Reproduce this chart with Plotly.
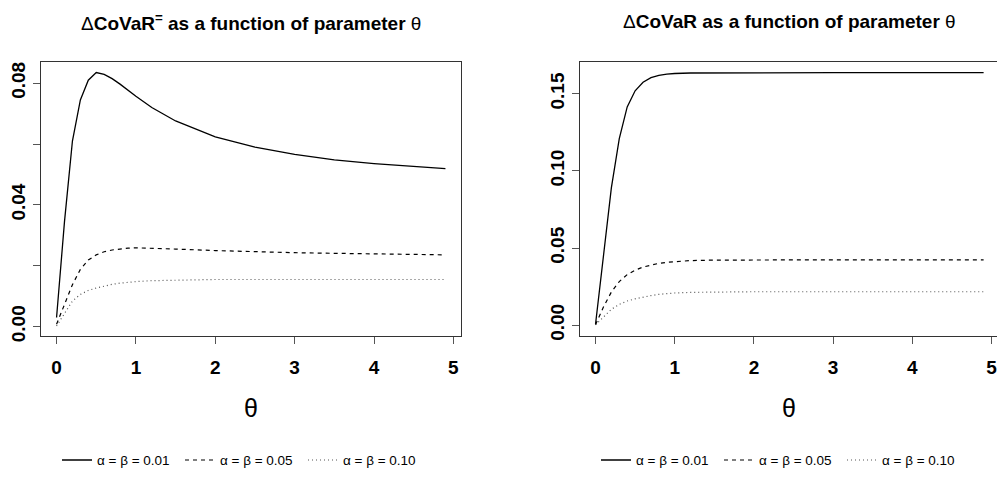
import plotly.graph_objects as go

# ---- data ----
theta = [0.0, 0.1, 0.2, 0.3, 0.4, 0.5, 0.6, 0.7, 0.8, 0.9, 1.0, 1.2, 1.5,
         2.0, 2.5, 3.0, 3.5, 4.0, 4.5, 4.9]

left_001 = [0.0030, 0.0345, 0.0610, 0.0745, 0.0810, 0.0835, 0.0829, 0.0815, 0.0797, 0.0776,
            0.0757, 0.0720, 0.0676, 0.0624, 0.0590, 0.0566, 0.0548, 0.0536, 0.0526, 0.0519]
left_005 = [0.0008, 0.0075, 0.0138, 0.0188, 0.0219, 0.0236, 0.0246, 0.0252, 0.0256, 0.0258,
            0.0259, 0.0258, 0.0255, 0.0250, 0.0246, 0.0243, 0.0241, 0.0239, 0.0237, 0.0236]
left_010 = [0.0002, 0.0045, 0.0084, 0.0106, 0.0119, 0.0127, 0.0134, 0.0139, 0.0143, 0.0146,
            0.0148, 0.0151, 0.0153, 0.0155, 0.0155, 0.0155, 0.0155, 0.0155, 0.0155, 0.0155]

right_001 = [0.0006, 0.0470, 0.0890, 0.1210, 0.1415, 0.1520, 0.1575, 0.1605, 0.1620, 0.1628,
             0.1632, 0.1635, 0.1636, 0.1637, 0.1637, 0.1637, 0.1637, 0.1637, 0.1637, 0.1637]
right_005 = [0.0003, 0.0118, 0.0215, 0.0283, 0.0328, 0.0357, 0.0377, 0.0391, 0.0401, 0.0408,
             0.0413, 0.0419, 0.0422, 0.0424, 0.0424, 0.0424, 0.0424, 0.0424, 0.0424, 0.0424]
right_010 = [0.0002, 0.0055, 0.0103, 0.0135, 0.0157, 0.0171, 0.0183, 0.0192, 0.0200, 0.0205,
             0.0209, 0.0213, 0.0216, 0.0217, 0.0217, 0.0217, 0.0217, 0.0217, 0.0217, 0.0217]

series_names = ["α = β = 0.01", "α = β = 0.05", "α = β = 0.10"]
x_ticks = [0, 1, 2, 3, 4, 5]
left_yticks = [0.00, 0.04, 0.08]
left_yticklabels = ["0.00", "0.04", "0.08"]
left_yminor = [0.02, 0.06]
right_yticks = [0.00, 0.05, 0.10, 0.15]
right_yticklabels = ["0.00", "0.05", "0.10", "0.15"]

titles = ["Δ<b>CoVaR<sup>=</sup> as a function of parameter </b>θ",
          "Δ<b>CoVaR as a function of parameter </b>θ"]

# ---- styling ----
W, H = 997, 483
FONT_B = "Liberation Sans Narrow, Arial Narrow, Liberation Sans, Arial, sans-serif"
dashes = ["solid", "4px,4px", "1px,3px"]
colors = ["black", "black", "#555555"]
widths = [1.3, 1.2, 1.2]


def px(x):
    return x / W


def py(y):
    return 1 - y / H


fig = go.Figure()

panels = [
    dict(ys=[left_001, left_005, left_010], xa="x", ya="y", legend="legend"),
    dict(ys=[right_001, right_005, right_010], xa="x2", ya="y2", legend="legend2"),
]
for p in panels:
    for i, ys in enumerate(p["ys"]):
        fig.add_trace(go.Scatter(
            x=theta, y=ys, mode="lines", name=series_names[i],
            line=dict(color=colors[i], width=widths[i], dash=dashes[i]),
            xaxis=p["xa"], yaxis=p["ya"], legend=p["legend"], showlegend=True,
        ))

axis_common = dict(
    showgrid=False, zeroline=False, showline=True, linecolor="#333333", linewidth=1,
    ticks="outside", ticklen=7, tickcolor="#555555", tickwidth=1,
    ticklabeloverflow="allow",
    tickfont=dict(family=FONT_B, size=19, color="black", weight="bold"),
)

y_top, y_bot = 63, 340
fig.update_layout(
    width=W, height=H,
    margin=dict(l=0, r=0, t=0, b=0),
    paper_bgcolor="white", plot_bgcolor="white",
    xaxis=dict(domain=[px(41), px(461)], range=[-0.196, 5.096], tickvals=x_ticks,
               mirror=True, anchor="y", ticklabelstandoff=7, **axis_common),
    yaxis=dict(domain=[py(y_bot), py(y_top)], range=[-0.0030, 0.0869],
               tickvals=left_yticks, ticktext=left_yticklabels, tickangle=-90,
               minor=dict(tickvals=left_yminor, ticks="outside", ticklen=7,
                          tickcolor="#555555", tickwidth=1, showgrid=False),
               mirror=True, anchor="x", **axis_common),
    xaxis2=dict(domain=[px(580), 1.0], range=[-0.196, 5.069], tickvals=x_ticks,
                mirror=True, anchor="y2", ticklabelstandoff=7, **axis_common),
    yaxis2=dict(domain=[py(y_bot), py(y_top)], range=[-0.00685, 0.1705],
                tickvals=right_yticks, ticktext=right_yticklabels, tickangle=-90,
                mirror=False, anchor="x2", **axis_common),
    legend=dict(orientation="h", x=px(57), y=py(466), xanchor="left", yanchor="middle",
                font=dict(family=FONT_B, size=13.5, color="black"),
                bgcolor="rgba(0,0,0,0)", entrywidth=78, tracegroupgap=0),
    legend2=dict(orientation="h", x=px(596), y=py(466), xanchor="left", yanchor="middle",
                 font=dict(family=FONT_B, size=13.5, color="black"),
                 bgcolor="rgba(0,0,0,0)", entrywidth=78, tracegroupgap=0),
    showlegend=True,
)

# titles and x-axis titles
for cx, t in [(251, titles[0]), (789, titles[1])]:
    fig.add_annotation(text=t, x=px(cx), y=py(22), xref="paper", yref="paper",
                       showarrow=False, xanchor="center", yanchor="middle",
                       font=dict(family=FONT_B, size=19, color="black"))
for cx in [251, 789]:
    fig.add_annotation(text="θ", x=px(cx), y=py(413), xref="paper", yref="paper",
                       showarrow=False, xanchor="center", yanchor="middle",
                       font=dict(family=FONT_B, size=25, color="black"))

fig.write_html(
    "out.html",
    config={"displayModeBar": False},
    post_script="document.body.style.margin='0';document.body.style.overflow='hidden';",
)
